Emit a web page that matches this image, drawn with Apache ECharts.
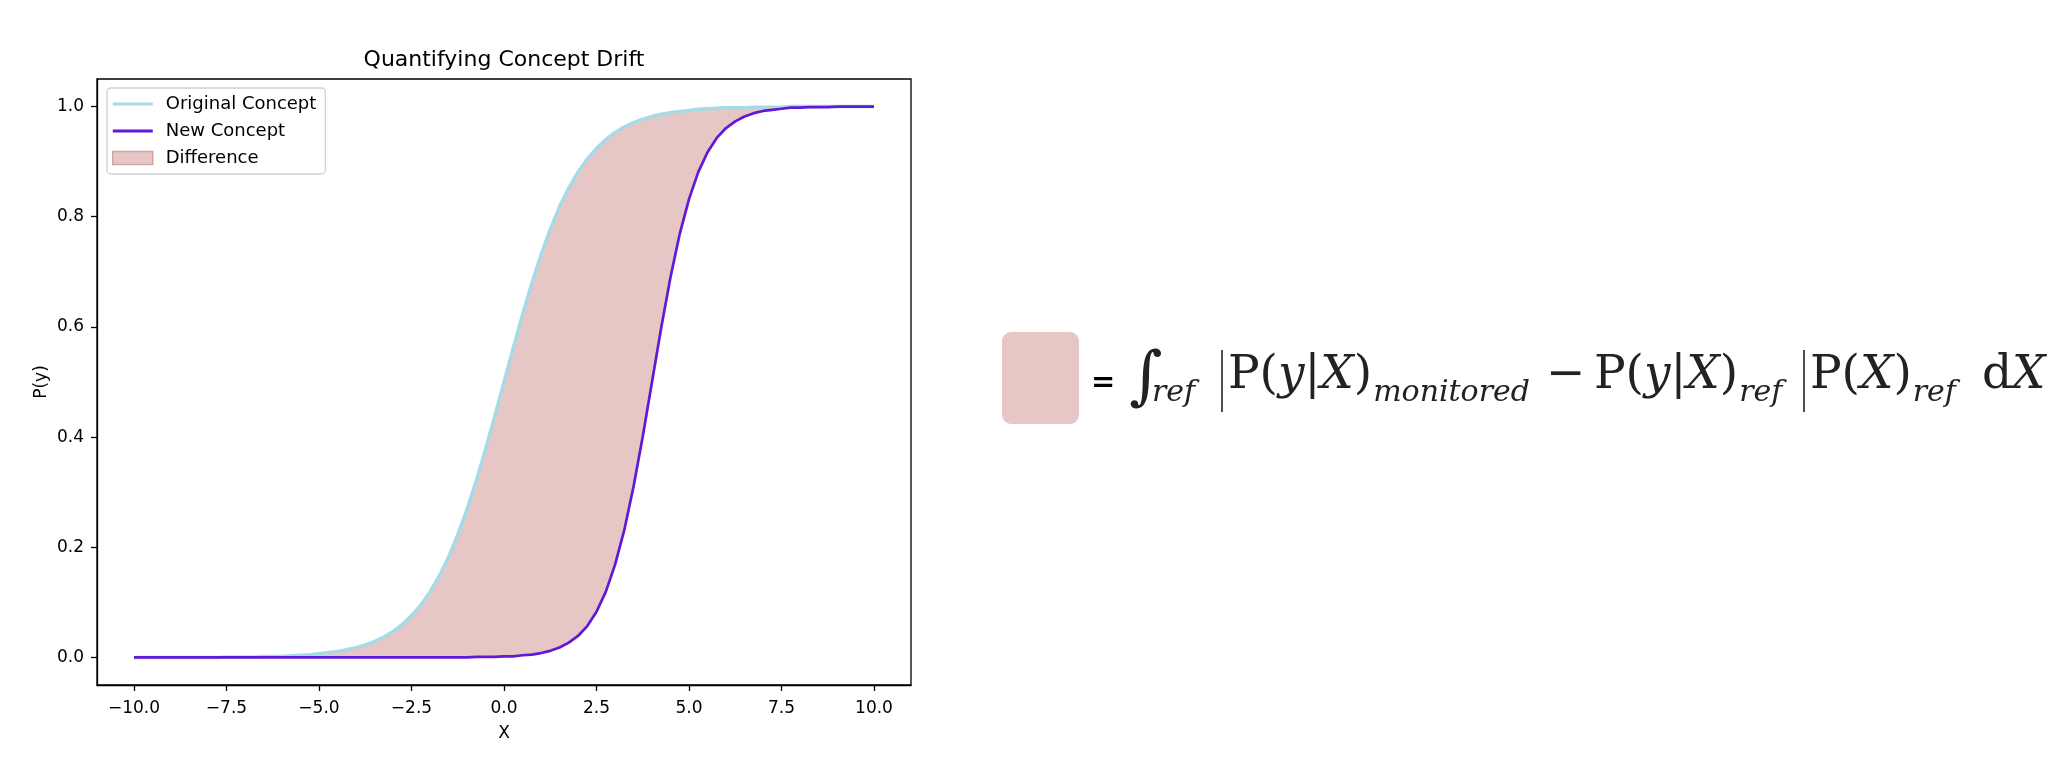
<!DOCTYPE html>
<html>
<head>
<meta charset="utf-8">
<title>Quantifying Concept Drift</title>
<script src="https://cdn.jsdelivr.net/npm/echarts@6/dist/echarts.min.js"></script>
<style>
html, body { margin: 0; padding: 0; background: #fff; }
#main { width: 2062px; height: 770px; }
</style>
</head>
<body>
<div id="main"></div>
<script>
// values
var xValues = [-10, -9.75, -9.5, -9.25, -9, -8.75, -8.5, -8.25, -8, -7.75, -7.5, -7.25, -7, -6.75, -6.5, -6.25, -6, -5.75, -5.5, -5.25,
    -5, -4.75, -4.5, -4.25, -4, -3.75, -3.5, -3.25, -3, -2.75, -2.5, -2.25, -2, -1.75, -1.5, -1.25, -1, -0.75, -0.5, -0.25,
    0, 0.25, 0.5, 0.75, 1, 1.25, 1.5, 1.75, 2, 2.25, 2.5, 2.75, 3, 3.25, 3.5, 3.75, 4, 4.25, 4.5, 4.75,
    5, 5.25, 5.5, 5.75, 6, 6.25, 6.5, 6.75, 7, 7.25, 7.5, 7.75, 8, 8.25, 8.5, 8.75, 9, 9.25, 9.5, 9.75, 10];
var originalConcept = [0.000, 0.000, 0.000, 0.000, 0.000, 0.000, 0.000, 0.000, 0.000, 0.000, 0.001, 0.001, 0.001, 0.001, 0.002, 0.002, 0.002, 0.003, 0.004, 0.005,
    0.007, 0.009, 0.011, 0.014, 0.018, 0.023, 0.029, 0.037, 0.047, 0.060, 0.076, 0.095, 0.119, 0.148, 0.182, 0.223, 0.269, 0.321, 0.378, 0.438,
    0.500, 0.562, 0.622, 0.679, 0.731, 0.777, 0.818, 0.852, 0.881, 0.905, 0.924, 0.940, 0.953, 0.963, 0.971, 0.977, 0.982, 0.986, 0.989, 0.991,
    0.993, 0.995, 0.996, 0.997, 0.998, 0.998, 0.998, 0.999, 0.999, 0.999, 0.999, 1.000, 1.000, 1.000, 1.000, 1.000, 1.000, 1.000, 1.000, 1.000, 1.000];
var newConcept = [0.000, 0.000, 0.000, 0.000, 0.000, 0.000, 0.000, 0.000, 0.000, 0.000, 0.000, 0.000, 0.000, 0.000, 0.000, 0.000, 0.000, 0.000, 0.000, 0.000,
    0.000, 0.000, 0.000, 0.000, 0.000, 0.000, 0.000, 0.000, 0.000, 0.000, 0.000, 0.000, 0.000, 0.000, 0.000, 0.000, 0.000, 0.001, 0.001, 0.001,
    0.002, 0.002, 0.004, 0.005, 0.008, 0.012, 0.018, 0.027, 0.039, 0.057, 0.083, 0.119, 0.168, 0.231, 0.310, 0.401, 0.500, 0.599, 0.690, 0.769,
    0.832, 0.881, 0.917, 0.943, 0.961, 0.973, 0.982, 0.988, 0.992, 0.994, 0.996, 0.998, 0.998, 0.999, 0.999, 0.999, 1.000, 1.000, 1.000, 1.000, 1.000];
var xTicks = [-10, -7.5, -5, -2.5, 0, 2.5, 5, 7.5, 10];
var yTicks = [0, 0.2, 0.4, 0.6, 0.8, 1.0];

var cyan = '#a5dbe6';
var purple = '#6218d6';
var fillColor = '#e7c6c6';
var fillEdge = '#d6a3a3';
var SANS = 'DejaVu Sans';
var SERIF = 'DejaVu Serif';

function pairs(ys) {
    var out = [];
    for (var i = 0; i < xValues.length; i++) out.push([xValues[i], ys[i]]);
    return out;
}
function tickFmt(v) {
    return v.toFixed(1).replace('-', '\u2212');
}

// the shaded band between both curves
function renderDifference(params, api) {
    var pts = [];
    for (var i = 0; i < xValues.length; i++) pts.push(api.coord([xValues[i], originalConcept[i]]));
    for (var j = xValues.length - 1; j >= 0; j--) pts.push(api.coord([xValues[j], newConcept[j]]));
    return {type: 'polygon', shape: {points: pts}, style: {fill: fillColor}};
}

// formula on the right, laid out piece by piece
var formulaPieces = [
    {t: '\u222B', size: 64, x: 1129, dy: 11},
    {t: 'ref', size: 30, it: true, sub: true, x: 1152},
    {bar: true, x: 1222},
    {t: 'P', size: 47, x: 1228}, {t: '(', size: 47}, {t: 'y', size: 47, it: true}, {t: '|', size: 47}, {t: 'X', size: 47, it: true}, {t: ')', size: 47},
    {t: 'monitored', size: 30, it: true, sub: true, gap: 1},
    {t: '\u2212', size: 47, x: 1546},
    {t: 'P', size: 47, x: 1594}, {t: '(', size: 47}, {t: 'y', size: 47, it: true}, {t: '|', size: 47}, {t: 'X', size: 47, it: true}, {t: ')', size: 47},
    {t: 'ref', size: 30, it: true, sub: true, gap: 1},
    {bar: true, x: 1804},
    {t: 'P', size: 47, x: 1810}, {t: '(', size: 47}, {t: 'X', size: 47, it: true}, {t: ')', size: 47},
    {t: 'ref', size: 30, it: true, sub: true, gap: 1},
    {t: 'd', size: 47, x: 1982}, {t: 'X', size: 47, it: true}
];
var mainBase = 392, subBase = 404;
var measureCtx = document.createElement('canvas').getContext('2d');

var graphics = [
    {type: 'text', x: 504, y: 60, style: {text: 'Quantifying Concept Drift', fontFamily: SANS, fontSize: 22, fill: '#000', align: 'center', verticalAlign: 'middle'}},
    {type: 'rect', shape: {x: 1002, y: 332, width: 77, height: 92, r: 9}, style: {fill: fillColor}},
    {type: 'text', x: 1091, y: 383, style: {text: '=', fontFamily: SANS, fontWeight: 'bold', fontSize: 29, fill: '#000', align: 'left', verticalAlign: 'middle'}}
];
var cx = 0;
formulaPieces.forEach(function (p) {
    if (p.x != null) cx = p.x;
    cx += p.gap || 0;
    if (p.bar) {
        graphics.push({type: 'line', shape: {x1: cx, y1: 350, x2: cx, y2: 412}, style: {stroke: '#222', lineWidth: 1.6}});
        cx += 6;
        return;
    }
    var font = (p.it ? 'italic ' : '') + p.size + 'px "' + SERIF + '"';
    measureCtx.font = font;
    var w = measureCtx.measureText(p.t).width;
    var base = (p.sub ? subBase : mainBase) + (p.dy || 0);
    graphics.push({type: 'text', x: cx, y: base - 0.35 * p.size,
        style: {text: p.t, fontFamily: SERIF, fontSize: p.size, fontStyle: p.it ? 'italic' : 'normal', fill: '#222', align: 'left', verticalAlign: 'middle'}});
    cx += w;
});

var myChart = echarts.init(document.getElementById('main'), null, {renderer: 'canvas'});
var option = {
    animation: false,
    backgroundColor: '#fff',
    grid: {left: 97, right: 1151, top: 79, bottom: 85, show: true, borderColor: '#000', borderWidth: 1.3, containLabel: false},
    xAxis: {
        type: 'value', min: -11, max: 11,
        axisLine: {show: true, onZero: false, lineStyle: {color: '#000', width: 1.3}},
        axisTick: {show: true, customValues: xTicks, length: 6, lineStyle: {color: '#000', width: 1.3}},
        axisLabel: {customValues: xTicks, formatter: tickFmt, fontFamily: SANS, fontSize: 17, color: '#000', margin: 15},
        splitLine: {show: false},
        name: 'X', nameLocation: 'middle', nameGap: 40,
        nameTextStyle: {fontFamily: SANS, fontSize: 17, color: '#000'}
    },
    yAxis: {
        type: 'value', min: -0.05, max: 1.05,
        axisLine: {show: true, onZero: false, lineStyle: {color: '#000', width: 1.3}},
        axisTick: {show: true, customValues: yTicks, length: 6, lineStyle: {color: '#000', width: 1.3}},
        axisLabel: {customValues: yTicks, formatter: tickFmt, fontFamily: SANS, fontSize: 17, color: '#000', margin: 13},
        splitLine: {show: false},
        name: 'P(y)', nameLocation: 'middle', nameGap: 47, nameRotate: 90,
        nameTextStyle: {fontFamily: SANS, fontSize: 17, color: '#000'}
    },
    legend: {
        orient: 'vertical', left: 107, top: 88,
        backgroundColor: 'rgba(255,255,255,0.8)', borderColor: '#d0d0d0', borderWidth: 1.3, borderRadius: 4,
        padding: [6, 9, 6, 5],
        itemWidth: 40, itemHeight: 13, itemGap: 7,
        textStyle: {fontFamily: SANS, fontSize: 18, color: '#000', lineHeight: 20, padding: [0, 0, 0, 8]},
        data: [
            {name: 'Original Concept', icon: 'path://M0,0H40V3H0Z', itemStyle: {color: cyan, borderWidth: 0}},
            {name: 'New Concept', icon: 'path://M0,0H40V3H0Z', itemStyle: {color: purple, borderWidth: 0}},
            {name: 'Difference', icon: 'rect', itemStyle: {color: fillColor, borderColor: fillEdge, borderWidth: 1.5}}
        ]
    },
    series: [
        {
            name: 'Difference', type: 'custom', data: [[0, 0]], silent: true, z: 1,
            itemStyle: {color: fillColor},
            renderItem: renderDifference
        },
        {
            name: 'Original Concept', type: 'line', data: pairs(originalConcept),
            symbol: 'none', smooth: false, z: 2,
            itemStyle: {color: cyan},
            lineStyle: {color: cyan, width: 3.4}
        },
        {
            name: 'New Concept', type: 'line', data: pairs(newConcept),
            symbol: 'none', smooth: false, z: 3,
            itemStyle: {color: purple},
            lineStyle: {color: purple, width: 2.7}
        }
    ],
    graphic: graphics
};
myChart.setOption(option);
</script>
</body>
</html>
